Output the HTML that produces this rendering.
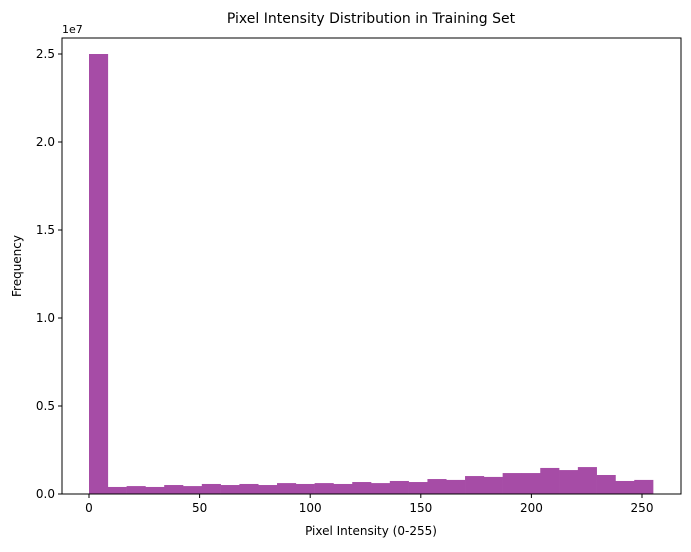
<!DOCTYPE html>
<html><head><meta charset="utf-8"><style>
body{margin:0;background:#fff;font-family:"Liberation Sans","DejaVu Sans",sans-serif}
</style></head><body>
<svg id="chart" width="691" height="547" font-family="DejaVu Sans, Liberation Sans, sans-serif">
<text x="371" y="23" font-size="14" text-anchor="middle">Pixel Intensity Distribution in Training Set</text>
<g id="bars"></g>
<rect x="62" y="38" width="619" height="456" fill="none" stroke="#000" stroke-width="1"/>
<g id="xt"></g><g id="yt"></g>
<text x="62" y="33" font-size="11">1e7</text>
<text x="371" y="535" font-size="12" text-anchor="middle">Pixel Intensity (0-255)</text>
<text transform="translate(21,266) rotate(-90)" font-size="12" text-anchor="middle">Frequency</text>
</svg>
<script>
const counts=[25000000,400000,450000,400000,510000,450000,570000,510000,570000,510000,620000,570000,620000,570000,680000,620000,740000,680000,850000,800000,1020000,970000,1190000,1190000,1480000,1360000,1530000,1080000,740000,800000];
const xTicks=[0,50,100,150,200,250];
const yTicks=[0,0.5,1.0,1.5,2.0,2.5];
const yTickLabels=["0.0","0.5","1.0","1.5","2.0","2.5"];
const binMin=0,binMax=255,nBins=30;
const NS="http://www.w3.org/2000/svg";
const xs=v=>89+v*(642-89)/250;
const ys=v=>494-v/5e6*88;
const bars=document.getElementById('bars');
const w=(binMax-binMin)/nBins;
for(let i=0;i<nBins;i++){
 const r=document.createElementNS(NS,'rect');
 const x0=xs(binMin+i*w),x1=xs(binMin+(i+1)*w);
 r.setAttribute('x',x0);r.setAttribute('width',x1-x0+0.3);
 r.setAttribute('y',ys(counts[i]));r.setAttribute('height',494-ys(counts[i]));
 r.setAttribute('fill','#a64ca6');
 
 
 bars.appendChild(r);
}
const xt=document.getElementById('xt');
xTicks.forEach(t=>{
 const l=document.createElementNS(NS,'line');
 l.setAttribute('x1',xs(t));l.setAttribute('x2',xs(t));l.setAttribute('y1',494);l.setAttribute('y2',498);l.setAttribute('stroke','#000');
 
 
 xt.appendChild(l);
 const s=document.createElementNS(NS,'text');
 s.setAttribute('x',xs(t));s.setAttribute('y',512);s.setAttribute('font-size','12');s.setAttribute('text-anchor','middle');s.textContent=t;
 
 
 xt.appendChild(s);
});
const yt=document.getElementById('yt');
yTicks.forEach((t,i)=>{
 const y=ys(t*1e7);
 const l=document.createElementNS(NS,'line');
 l.setAttribute('x1',58);l.setAttribute('x2',62);l.setAttribute('y1',y);l.setAttribute('y2',y);l.setAttribute('stroke','#000');
 
 
 yt.appendChild(l);
 const s=document.createElementNS(NS,'text');
 s.setAttribute('x',55);s.setAttribute('y',y+4);s.setAttribute('font-size','12');s.setAttribute('text-anchor','end');s.textContent=yTickLabels[i];
 
 
 yt.appendChild(s);
});
</script>
</body></html>
